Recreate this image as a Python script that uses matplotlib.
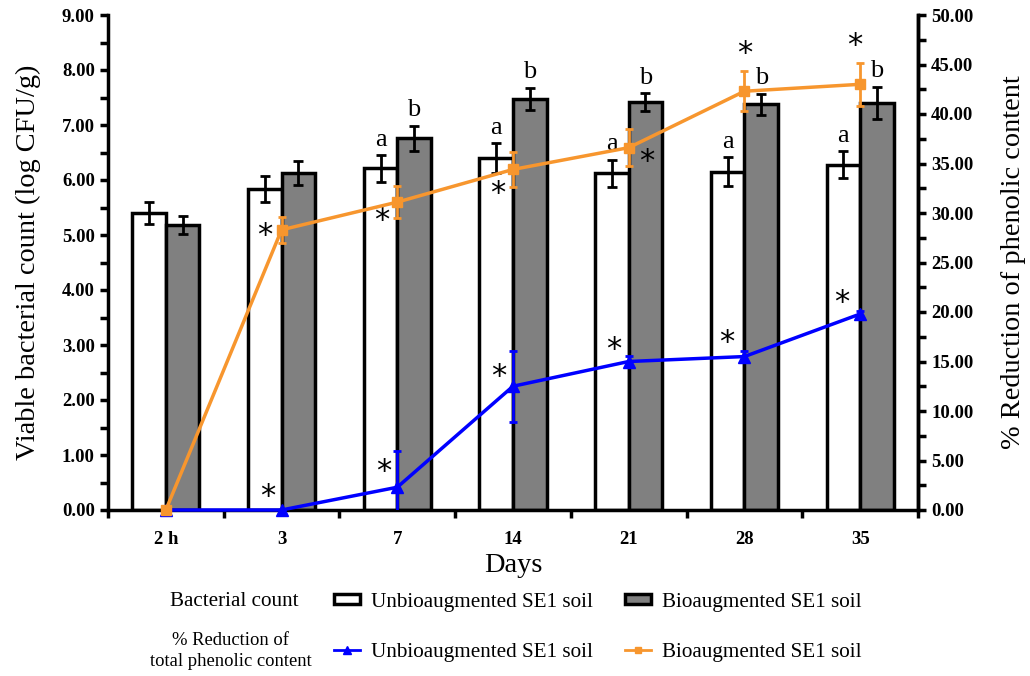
import matplotlib
matplotlib.use("Agg")
import numpy as np
import matplotlib.pyplot as plt
from matplotlib.patches import Patch
from matplotlib.lines import Line2D

plt.rcParams['font.family'] = ['Liberation Serif', 'DejaVu Serif']

# data
days = ["2 h", "3", "7", "14", "21", "28", "35"]
count_unbio = [5.40, 5.84, 6.21, 6.40, 6.12, 6.15, 6.28]
count_unbio_err = [0.20, 0.24, 0.25, 0.27, 0.25, 0.26, 0.25]
count_bio = [5.18, 6.13, 6.76, 7.48, 7.42, 7.38, 7.40]
count_bio_err = [0.16, 0.22, 0.23, 0.20, 0.16, 0.19, 0.30]
letters_unbio = ["", "", "a", "a", "a", "a", "a"]
letters_bio = ["", "", "b", "b", "b", "b", "b"]

red_unbio = [0.0, 0.0, 2.3, 12.5, 15.0, 15.5, 19.8]
red_unbio_err = [0.0, 0.0, 3.7, 3.6, 0.6, 0.6, 0.3]
red_bio = [0.0, 28.3, 31.1, 34.4, 36.6, 42.3, 43.0]
red_bio_err = [0.0, 1.3, 1.6, 1.8, 1.9, 2.0, 2.2]

# asterisk offsets (points) relative to each line point
star_bio_off = [None, (-12, -4), (-11, -13), (-11, -17), (13, -10), (0, 27), (-4, 28)]
star_unbio_off = [None, (-10, 10), (-10, 11), (-10, 7), (-11, 9), (-13, 10), (-13, 8)]

orange = "#f7962e"
blue = "#0000ff"

fig = plt.figure(figsize=(10.3, 6.76), dpi=100)
ax = fig.add_axes([108 / 1030, 1 - 510 / 676, 810 / 1030, 495 / 676])
x = np.arange(len(days))
w = 0.29

err_kw = dict(ecolor="black", elinewidth=2, capsize=3.5, capthick=2)
ax.bar(x - w / 2, count_unbio, w, yerr=count_unbio_err, color="white",
       edgecolor="black", linewidth=2.5, error_kw=err_kw, zorder=2)
ax.bar(x + w / 2, count_bio, w, yerr=count_bio_err, color="#808080",
       edgecolor="black", linewidth=2.5, error_kw=err_kw, zorder=2)

for i in range(len(days)):
    if letters_unbio[i]:
        ax.annotate(letters_unbio[i], (x[i] - w / 2, count_unbio[i] + count_unbio_err[i]),
                    xytext=(0, 3), textcoords="offset points", ha="center", va="bottom",
                    fontsize=19)
    if letters_bio[i]:
        ax.annotate(letters_bio[i], (x[i] + w / 2, count_bio[i] + count_bio_err[i]),
                    xytext=(0, 3), textcoords="offset points", ha="center", va="bottom",
                    fontsize=19)

ax.set_xlim(-0.5, len(days) - 0.5)
ax.set_ylim(0, 9)
ax.set_yticks(np.arange(0, 9.01, 1.0))
ax.set_yticks(np.arange(0.5, 9, 1.0), minor=True)
ax.set_yticklabels([f"{v:.2f}" for v in np.arange(0, 9.01, 1.0)],
                   fontsize=13.5, fontweight="bold")
ax.set_xticks(np.arange(-0.5, len(days), 1.0))
ax.set_xticklabels([])
ax.set_xticks(x, minor=True)
ax.set_xticklabels(days, minor=True, fontsize=13.5, fontweight="bold")
ax.tick_params(axis="x", which="minor", length=0, pad=15)
ax.tick_params(axis="x", which="major", direction="out", length=6, width=2.5)
ax.tick_params(axis="y", which="both", direction="out", length=6, width=2.5)
ax.set_ylabel("Viable bacterial count (log CFU/g)", fontsize=20.4, labelpad=15)
ax.set_xlabel("Days", fontsize=20.4, labelpad=4)
ax.spines["top"].set_visible(False)
for s in ["left", "bottom", "right"]:
    ax.spines[s].set_linewidth(2.5)

ax2 = ax.twinx()
ax2.set_position(ax.get_position())
series = [(red_unbio, red_unbio_err, blue, "^", 8, 3),
          (red_bio, red_bio_err, orange, "s", 7, 4)]
for vals, errs, col, mk, ms, z in series:
    line, caps, bars = ax2.errorbar(x, vals, yerr=errs, color=col, lw=2.5, marker=mk,
                                    markersize=ms, elinewidth=2, capsize=3, capthick=2,
                                    zorder=z)
    line.set_clip_on(False)

for i in range(len(days)):
    if star_bio_off[i]:
        ax2.annotate("*", (x[i], red_bio[i]), xytext=star_bio_off[i],
                     textcoords="offset points", ha="center", va="center",
                     fontsize=22, family="DejaVu Sans")
    if star_unbio_off[i]:
        ax2.annotate("*", (x[i], red_unbio[i]), xytext=star_unbio_off[i],
                     textcoords="offset points", ha="center", va="center",
                     fontsize=22, family="DejaVu Sans")

ax2.set_ylim(0, 50)
ax2.set_yticks(np.arange(0, 50.01, 5))
ax2.set_yticks(np.arange(2.5, 50, 5), minor=True)
ax2.set_yticklabels([f"{v:.2f}" for v in np.arange(0, 50.01, 5)],
                    fontsize=13.5, fontweight="bold")
ax2.tick_params(axis="y", which="both", direction="out", length=6, width=2.5)
ax2.set_ylabel("% Reduction of phenolic content", fontsize=20.4, labelpad=20)
ax2.spines["top"].set_visible(False)
ax2.spines["right"].set_linewidth(2.5)

# legend
fig.text(234 / 1030, 1 - 602 / 676, "Bacterial count", ha="center", va="center", fontsize=15.2)
fig.text(231 / 1030, 1 - 651 / 676, "% Reduction of\ntotal phenolic content",
         ha="center", va="center", fontsize=13.4, linespacing=1.25)
h_bar = [Patch(facecolor="white", edgecolor="black", linewidth=2.5),
         Patch(facecolor="#808080", edgecolor="black", linewidth=2.5)]
leg_kw = dict(ncol=2, loc="center left", frameon=False, fontsize=15.2, handlelength=1.25,
              handletextpad=0.5, columnspacing=1.5, borderpad=0, borderaxespad=0)
fig.legend(h_bar, ["Unbioaugmented SE1 soil", "Bioaugmented SE1 soil"],
           bbox_to_anchor=(334 / 1030, 1 - 602 / 676), handleheight=0.4, **leg_kw)
h_line = [Line2D([], [], color=blue, lw=2, marker="^", markersize=6),
          Line2D([], [], color=orange, lw=2, marker="s", markersize=5)]
fig.legend(h_line, ["Unbioaugmented SE1 soil", "Bioaugmented SE1 soil"],
           bbox_to_anchor=(334 / 1030, 1 - 652 / 676), **leg_kw)

fig.savefig("out.png", dpi=100)
